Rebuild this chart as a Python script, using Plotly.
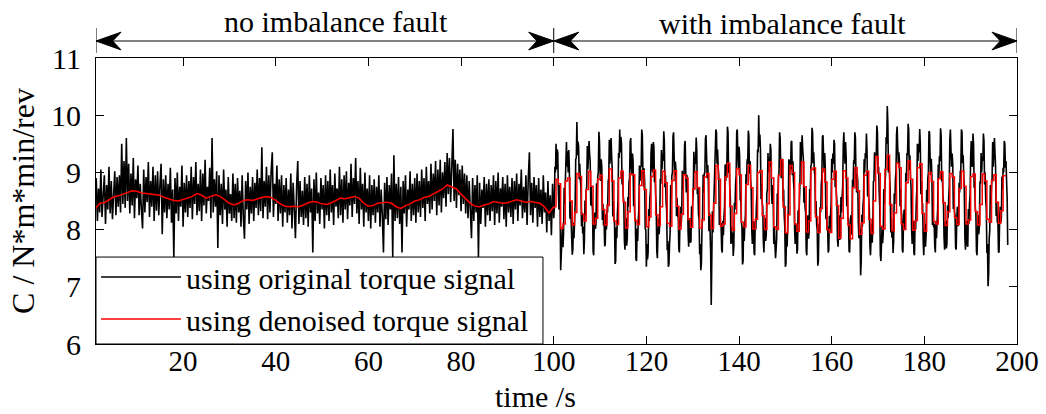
import numpy as np
import plotly.graph_objects as go

# ---------------- data ----------------
# original torque signal, 0.25 s sampling, t = 1.25 ... 100.0
black_first = [
    8.90, 8.15, 8.72, 8.30, 9.05, 8.22, 8.60, 8.95, 8.10, 8.78, 8.35, 9.10, 8.28, 8.85, 8.18, 8.70, 9.02, 8.25, 8.92, 8.40,
    8.95, 8.30, 9.50, 8.45, 9.20, 8.38, 9.60, 8.50, 9.15, 8.28, 8.98, 8.42, 9.25, 8.20, 8.88, 8.55, 9.12, 8.25, 8.80, 8.35,
    8.02, 9.05, 8.30, 8.92, 8.48, 9.18, 8.22, 8.85, 8.40, 9.10, 8.15, 8.95, 8.33, 9.02, 8.25, 8.78, 9.15, 7.92, 8.88, 8.30,
    8.95, 8.20, 8.80, 8.35, 9.08, 8.12, 8.70, 7.52, 8.90, 8.28, 9.00, 8.15, 8.75, 8.40, 9.12, 8.05, 8.82, 8.30, 8.95, 8.22,
    8.85, 8.38, 9.10, 8.18, 8.92, 8.45, 9.18, 8.25, 8.80, 8.32, 9.05, 8.15, 8.98, 8.42, 9.22, 8.28, 8.75, 8.50, 9.08, 8.20,
    9.60, 8.30, 8.88, 8.40, 9.02, 7.68, 8.95, 8.25, 8.80, 8.10, 9.05, 8.35, 8.70, 8.05, 8.92, 8.28, 8.62, 8.15, 8.98, 8.20,
    8.80, 8.12, 8.90, 8.30, 8.68, 8.05, 8.95, 8.22, 7.84, 8.85, 8.35, 9.00, 8.10, 8.75, 8.28, 8.92, 8.15, 8.82, 8.38, 9.05,
    8.25, 8.90, 8.32, 9.44, 8.20, 8.85, 8.40, 9.10, 8.18, 8.95, 8.30, 9.02, 9.35, 8.22, 8.80, 8.45, 9.12, 8.15, 8.88, 8.28,
    8.95, 8.05, 8.78, 8.30, 8.90, 8.12, 8.70, 8.25, 8.98, 8.02, 8.82, 8.35, 7.85, 8.75, 9.20, 8.10, 8.85, 8.22, 8.68, 8.08,
    8.92, 8.20, 8.80, 8.05, 8.95, 8.30, 8.72, 7.60, 8.88, 8.15, 9.00, 8.28, 8.65, 8.10, 8.90, 8.35, 8.78, 8.02, 8.95, 8.25,
    8.85, 8.15, 9.05, 8.30, 8.78, 8.08, 8.98, 8.40, 8.72, 8.20, 9.10, 8.25, 8.88, 8.12, 8.95, 8.35, 9.02, 8.18, 8.82, 8.42,
    9.15, 8.22, 8.90, 8.45, 9.25, 8.28, 8.85, 8.10, 9.08, 8.35, 8.80, 8.05, 9.00, 8.30, 8.72, 8.15, 8.95, 8.02, 8.78, 8.25,
    8.88, 8.12, 8.75, 8.30, 8.95, 8.05, 8.70, 8.25, 7.60, 8.82, 8.18, 8.92, 8.08, 8.78, 8.35, 8.98, 7.52, 9.30, 8.15, 8.80,
    8.20, 8.92, 8.10, 8.75, 7.60, 8.85, 8.28, 8.95, 8.05, 8.70, 8.35, 9.02, 8.15, 8.80, 8.25, 8.90, 8.12, 8.98, 8.30, 8.85,
    8.22, 9.05, 8.38, 8.90, 8.15, 9.10, 8.45, 8.85, 8.28, 9.15, 8.35, 8.98, 8.50, 9.20, 8.25, 9.05, 8.42, 9.22, 8.30, 9.00,
    8.55, 9.18, 8.40, 9.34, 8.62, 9.25, 8.48, 9.10, 9.76, 8.50, 9.22, 8.38, 9.15, 8.60, 9.05, 8.32, 9.12, 8.45, 8.98, 8.28,
    8.95, 8.20, 8.85, 8.35, 7.85, 8.90, 8.15, 8.78, 8.30, 8.95, 7.52, 8.82, 8.10, 8.70, 8.38, 8.92, 8.05, 8.80, 8.25, 8.88,
    8.15, 8.78, 8.32, 8.95, 8.08, 8.85, 8.28, 9.00, 8.12, 8.72, 8.40, 8.92, 8.18, 8.80, 8.05, 8.95, 8.30, 8.75, 8.22, 8.90,
    8.10, 8.85, 8.35, 8.98, 8.15, 8.80, 8.42, 9.05, 8.20, 8.75, 8.30, 8.95, 8.08, 8.88, 9.35, 8.25, 8.82, 8.12, 8.92, 8.38,
    8.78, 8.05, 8.90, 8.22, 8.70, 8.10, 8.95, 8.30, 8.65, 7.95, 8.85, 8.15, 8.60, 7.90, 8.80, 8.20,
]

# original torque signal, 0.125 s sampling, t = 100.125 ... 198.0
black_second = [
    8.35, 9.10, 9.00, 9.50, 9.05, 9.40, 9.35, 8.69, 8.35, 8.78, 8.45, 7.29, 7.45, 7.80, 8.05, 7.69, 7.95, 8.73,
    8.45, 8.79, 8.90, 9.53, 9.10, 9.37, 9.00, 9.39, 9.05, 8.19, 8.50, 8.12, 8.10, 7.56, 7.65, 8.12, 7.85, 8.17,
    8.45, 9.23, 9.25, 9.88, 9.30, 9.54, 9.45, 8.88, 9.15, 8.86, 8.75, 8.06, 8.30, 7.93, 8.05, 7.57, 7.80, 8.51,
    8.25, 8.67, 8.75, 9.46, 9.05, 9.30, 9.55, 9.31, 9.20, 8.42, 8.75, 8.46, 8.35, 7.62, 7.55, 8.08, 8.30, 8.01,
    8.10, 8.81, 8.55, 8.93, 9.00, 9.71, 9.55, 9.03, 8.85, 9.23, 9.10, 8.17, 8.45, 8.07, 8.15, 7.71, 7.75, 8.27,
    8.00, 8.34,
    8.30, 8.84, 8.90, 9.57, 9.15, 9.33, 9.60, 9.29, 9.05, 8.23, 8.50, 8.19, 8.10, 7.40, 7.45, 8.04, 7.85, 8.28,
    8.50, 9.34, 9.25, 9.75, 9.35, 9.62, 9.50, 8.79, 9.00, 8.59, 8.50, 7.82, 7.65, 8.06, 8.20, 7.72, 7.85, 8.57,
    8.40, 8.83, 8.90, 9.53, 9.60, 9.09, 8.95, 9.33, 9.20, 8.41, 8.60, 8.21, 8.15, 7.48, 7.45, 8.02, 7.80, 8.16,
    8.35, 9.12, 8.85, 9.11, 9.10, 9.75, 9.65, 9.01, 8.75, 9.07, 8.85, 8.01, 8.00, 7.35, 7.75, 7.48, 7.60, 8.36,
    8.15, 8.56, 8.65, 9.33, 9.50, 9.09, 9.00, 9.53, 9.45, 8.83, 9.00, 8.62, 8.40, 7.62, 7.50, 7.91, 8.20, 7.92,
    8.10, 8.89,
    8.80, 9.39, 9.05, 9.32, 9.20, 9.72, 9.55, 8.74, 8.95, 8.48, 8.35, 7.64, 7.80, 7.35, 7.40, 7.74, 7.95, 8.78,
    8.55, 8.94, 9.00, 9.63, 9.70, 9.27, 8.95, 9.19, 9.05, 8.24, 8.55, 8.22, 8.25, 7.66, 7.60, 8.17, 8.40, 8.07,
    8.25, 9.03, 8.70, 8.98, 8.95, 9.49, 9.55, 8.98, 8.65, 8.96, 8.75, 7.96, 7.70, 8.03, 8.20, 7.77, 7.80, 8.41,
    8.15, 8.47, 8.65, 9.36, 9.00, 9.25, 9.15, 9.61, 9.40, 8.62, 8.75, 8.26, 8.20, 7.57, 7.75, 7.29, 7.40, 8.01,
    8.20, 8.96, 8.65, 8.98, 9.00, 9.59, 9.65, 9.28, 8.90, 9.13, 8.85, 7.97, 8.30, 7.97, 7.60, 6.68, 7.30, 8.32,
    7.95, 8.29,
    8.30, 8.94, 9.05, 9.75, 9.70, 9.15, 9.40, 9.09, 8.95, 8.08, 8.40, 8.10, 8.10, 7.65, 7.60, 8.15, 7.90, 8.23,
    8.40, 9.14, 8.85, 9.10, 9.15, 9.80, 9.70, 8.99, 9.15, 8.74, 8.55, 7.75, 8.05, 7.77, 7.95, 7.54, 7.70, 8.47,
    8.35, 8.78, 8.95, 9.71, 9.75, 9.28, 9.05, 9.45, 9.30, 8.51, 8.60, 8.14, 8.05, 7.39, 7.45, 8.08, 7.80, 8.09,
    8.25, 8.97, 8.80, 9.23, 9.15, 9.73, 9.65, 8.98, 9.20, 8.87, 8.70, 7.99, 7.75, 8.13, 8.15, 7.59, 7.55, 8.14,
    8.00, 8.41, 8.60, 9.40, 9.35, 10.00, 9.45, 9.66, 9.40, 8.53, 8.80, 8.47, 8.40, 7.79, 7.60, 7.97, 8.20, 7.80,
    7.90, 8.64,
    8.70, 9.34, 9.00, 9.25, 9.10, 9.50, 9.40, 8.69, 8.45, 8.78, 8.55, 7.75, 8.05, 7.75, 7.50, 7.65, 7.85, 8.63,
    8.45, 8.89, 9.00, 9.70, 9.60, 9.10, 8.90, 9.24, 9.15, 8.49, 8.70, 8.25, 8.05, 7.35, 7.40, 7.94, 7.70, 8.02,
    8.35, 9.23, 8.95, 9.21, 9.05, 9.53, 9.55, 8.95, 9.20, 8.86, 8.70, 7.99, 7.75, 8.04, 8.10, 7.58, 7.65, 8.34,
    8.10, 8.42, 8.70, 9.53, 9.15, 9.43, 9.65, 9.38, 9.25, 8.47, 8.75, 8.39, 8.30, 7.63, 7.55, 8.09, 8.25, 7.84,
    7.95, 8.71, 8.60, 9.10, 9.15, 9.78, 9.70, 9.16, 9.35, 9.03, 8.95, 8.27, 8.50, 8.09, 8.00, 7.37, 7.45, 8.10,
    7.95, 8.39,
    8.30, 8.79, 8.90, 9.62, 9.65, 9.28, 9.00, 9.34, 9.05, 8.18, 8.40, 7.99, 8.05, 7.60, 7.65, 8.24, 7.95, 8.23,
    8.45, 9.24, 9.00, 9.33, 9.15, 9.57, 9.50, 8.74, 9.00, 8.64, 8.50, 7.82, 7.70, 8.06, 8.25, 7.82, 7.90, 8.57,
    8.30, 8.58, 8.75, 9.48, 9.70, 9.34, 9.15, 9.53, 9.25, 8.41, 8.60, 8.16, 8.20, 7.63, 7.60, 8.02, 8.25, 7.91,
    8.10, 8.87, 8.75, 9.21, 9.15, 9.70, 9.60, 8.91, 8.65, 8.97, 8.85, 8.11, 7.85, 8.12, 7.95, 7.20, 7.45, 8.26,
    8.05, 8.41, 8.55, 9.23, 9.00, 9.34, 9.25, 9.68, 9.40, 8.58, 8.85, 8.52, 8.35, 7.72, 7.55, 7.86, 8.10, 7.77,
    8.05, 8.84,
    8.85, 9.35, 9.05, 9.31, 9.30, 9.82, 9.70, 8.99, 9.10, 8.66, 8.40, 7.56, 7.45, 7.75, 8.05, 7.76, 7.95, 8.71,
    8.45, 8.79, 8.95, 9.62, 9.50, 10.16, 9.85, 9.00, 9.25, 8.94, 8.70, 7.95, 8.20, 7.86, 8.00, 7.59, 7.80, 8.63,
    8.45, 8.87, 9.00, 9.66, 9.80, 9.44, 9.15, 9.35, 9.20, 8.41, 8.70, 8.35, 8.25, 7.64, 7.60, 8.13, 8.35, 8.01,
    8.20, 8.99, 8.85, 9.34, 9.30, 9.85, 9.75, 9.04, 9.30, 8.94, 8.75, 8.01, 7.75, 8.08, 8.15, 7.59, 7.55, 8.15,
    8.00, 8.46, 8.70, 9.50, 9.20, 9.49, 9.35, 9.76, 9.50, 8.62, 8.85, 8.48, 8.45, 7.79, 7.55, 7.91, 8.10, 7.70,
    7.90, 8.69,
    8.45, 8.89, 9.00, 9.72, 9.70, 9.23, 8.95, 9.24, 8.95, 8.08, 8.40, 8.04, 8.10, 7.70, 7.60, 8.14, 7.85, 8.13,
    8.35, 9.14, 8.90, 9.28, 9.20, 9.77, 9.65, 8.84, 9.00, 8.59, 8.50, 7.87, 7.65, 8.06, 8.15, 7.67, 7.75, 8.42,
    8.20, 8.53, 8.75, 9.58, 9.75, 9.39, 9.10, 9.33, 9.15, 8.36, 8.65, 8.31, 8.25, 7.68, 7.65, 8.17, 8.40, 8.06,
    8.10, 8.82, 8.65, 9.01, 9.05, 9.75, 9.70, 9.16, 9.30, 8.97, 8.70, 7.86, 7.65, 7.97, 8.15, 7.73, 7.70, 8.36,
    8.10, 8.46, 8.60, 9.28, 9.55, 9.14, 9.10, 9.68, 9.50, 8.73, 8.85, 8.37, 8.30, 7.62, 7.55, 7.96, 8.25, 7.92,
    8.05, 8.84,
    8.80, 9.34, 9.00, 9.27, 9.20, 9.68, 9.55, 8.79, 9.00, 8.53, 8.35, 7.59, 7.75, 7.01, 7.20, 7.84, 8.00, 8.78,
    8.45, 8.74, 8.90, 9.53, 9.10, 9.37, 9.60, 9.34, 9.10, 8.24, 8.50, 8.12, 8.15, 7.61, 7.60, 8.17, 8.40, 8.12,
    8.20, 8.93, 8.70, 9.08, 9.00, 9.55, 9.50, 9.08, 9.20, 8.86, 8.55, 7.73,
]

# denoised torque signal, 1 s sampling, t = 1 ... 100
red_first = [
    8.35, 8.46, 8.47, 8.52, 8.57, 8.59, 8.62, 8.66, 8.68, 8.67,
    8.64, 8.63, 8.62, 8.61, 8.60, 8.56, 8.53, 8.51, 8.50, 8.53,
    8.55, 8.58, 8.63, 8.60, 8.55, 8.58, 8.61, 8.58, 8.52, 8.46,
    8.43, 8.46, 8.51, 8.52, 8.51, 8.54, 8.56, 8.58, 8.56, 8.51,
    8.45, 8.41, 8.40, 8.41, 8.40, 8.43, 8.47, 8.49, 8.48, 8.45,
    8.44, 8.47, 8.51, 8.55, 8.54, 8.56, 8.58, 8.55, 8.46, 8.41,
    8.42, 8.46, 8.47, 8.48, 8.46, 8.40, 8.37, 8.42, 8.45, 8.50,
    8.52, 8.56, 8.58, 8.62, 8.66, 8.71, 8.78, 8.74, 8.71, 8.62,
    8.53, 8.46, 8.41, 8.40, 8.43, 8.45, 8.49, 8.47, 8.46, 8.47,
    8.50, 8.52, 8.50, 8.48, 8.49, 8.48, 8.46, 8.40, 8.29, 8.40,
]

# denoised torque signal, 0.5 s sampling, t = 100.0 ... 197.5
red_second = [
    8.40, 8.88, 8.80, 8.02, 8.10, 8.85, 8.90, 8.50, 8.08, 8.30, 8.98, 8.93, 8.27, 8.15, 8.70, 9.02, 8.76, 8.10, 8.20, 8.88, 8.95, 8.35, 8.08,
    8.42, 9.06, 8.85, 8.15, 8.09, 8.90, 9.02, 8.48, 8.03, 8.31, 8.97, 8.96, 8.16, 8.09, 8.77, 9.03, 8.70, 8.05, 8.22, 8.93, 9.04, 8.26, 8.07,
    8.40, 9.02, 8.82, 8.11, 8.06, 8.86, 9.03, 8.41, 8.01, 8.27, 8.96, 8.90, 8.18, 8.04, 8.71, 9.01, 8.73, 8.03, 8.17, 8.92, 8.98, 8.25, 8.02,
    8.46, 9.12, 8.88, 8.06, 8.10, 8.92, 9.16, 8.41, 7.99, 8.28, 9.07, 8.96, 8.13, 8.05, 8.79, 9.12, 8.73, 8.01, 8.18, 9.00, 9.03, 8.24, 8.00,
    8.45, 9.18, 8.90, 8.05, 8.00, 8.95, 9.22, 8.40, 7.94, 8.26, 9.12, 9.00, 8.10, 7.97, 8.80, 9.18, 8.75, 7.96, 8.15, 9.05, 9.08, 8.22, 7.95,
    8.37, 9.06, 8.83, 8.00, 7.95, 8.88, 9.02, 8.42, 7.85, 8.20, 9.03, 8.90, 8.08, 7.84, 8.73, 9.08, 8.68, 7.92, 8.12, 8.95, 9.02, 8.18, 7.93,
    8.50, 9.28, 8.98, 8.06, 8.01, 9.05, 9.30, 8.44, 7.98, 8.29, 9.16, 9.08, 8.10, 8.00, 8.82, 9.20, 8.88, 7.99, 8.16, 9.08, 9.15, 8.28, 7.97,
    8.47, 9.00, 8.84, 8.14, 8.10, 8.89, 9.01, 8.47, 8.07, 8.31, 8.98, 8.92, 8.21, 8.09, 8.72, 9.02, 8.76, 8.10, 8.17, 8.93, 8.97, 8.31, 8.08,
    8.44, 8.97, 8.85, 8.18, 8.13, 8.86, 8.96, 8.48, 8.11, 8.33, 8.94, 8.93,
]

x_ticks = [20, 40, 60, 80, 100, 120, 140, 160, 180, 200]
y_ticks = [6, 7, 8, 9, 10, 11]
x_range = [1.2, 200]
y_range = [6, 11]
segments = [(1.2, 100, 53.1, "no imbalance fault", 1.129),
            (100, 200, 149.3, "with imbalance fault", 1.119)]

# sample times
t_black = np.concatenate([1.25 + 0.25 * np.arange(len(black_first)),
                          100.125 + 0.125 * np.arange(len(black_second))])
y_black = np.concatenate([black_first, black_second])
t_red1 = 1.0 + np.arange(len(red_first))
t_red2 = 100.0 + 0.5 * np.arange(len(red_second))

FONT = "Liberation Serif, Times New Roman, serif"
FS = 30

fig = go.Figure()
fig.add_trace(go.Scatter(x=t_black, y=y_black, mode="lines",
                         line=dict(color="black", width=1.6),
                         name="using original torque signal"))
fig.add_trace(go.Scatter(x=t_red1, y=red_first, mode="lines",
                         line=dict(color="#ff0000", width=1.5),
                         name="using denoised torque signal", legendgroup="red"))
fig.add_trace(go.Scatter(x=t_red2, y=red_second, mode="lines",
                         line=dict(color="#ff0000", width=1.5, shape="hv"),
                         name="using denoised torque signal", legendgroup="red",
                         showlegend=False))

axis_common = dict(showline=True, linecolor="black", linewidth=1, mirror="ticks",
                   ticks="inside", ticklen=8, tickcolor="black", tickwidth=1,
                   showgrid=False, zeroline=False, automargin=False)

fig.update_xaxes(range=x_range, tickvals=x_ticks, ticktext=[str(v) for v in x_ticks],
                 tickfont=dict(family=FONT, size=29, color="black"),
                 ticklabelstandoff=-9, **axis_common)
fig.update_yaxes(range=y_range, tickvals=y_ticks, ticktext=[str(v) for v in y_ticks],
                 tickfont=dict(family=FONT, size=FS, color="black"),
                 title=dict(text="C / N*m*min/rev", font=dict(family=FONT, size=32, color="black"),
                            standoff=6),
                 ticklabelstandoff=8, **axis_common)

shapes = []
annotations = []
Y = 1.0594
for (x0, x1, xc, label, ty) in segments:
    shapes.append(dict(type="line", xref="x", yref="paper", x0=x0, x1=x1, y0=Y, y1=Y,
                       line=dict(color="black", width=1)))
    L, N, H = 5.4, 3.6, 0.031
    shapes.append(dict(type="path", xref="x", yref="paper",
                       path=f"M{x0},{Y} L{x0+L},{Y+H} L{x0+N},{Y} L{x0+L},{Y-H} Z",
                       fillcolor="black", line=dict(color="black", width=1)))
    shapes.append(dict(type="path", xref="x", yref="paper",
                       path=f"M{x1},{Y} L{x1-L},{Y+H} L{x1-N},{Y} L{x1-L},{Y-H} Z",
                       fillcolor="black", line=dict(color="black", width=1)))
    annotations.append(dict(x=xc, y=ty, xref="x", yref="paper", text=label, showarrow=False,
                            xanchor="center", yanchor="middle",
                            font=dict(family=FONT, size=FS, color="black")))
for xv in [1.2, 100, 200]:
    shapes.append(dict(type="line", xref="x", yref="paper", x0=xv, x1=xv, y0=1.0175, y1=1.105,
                       line=dict(color="black", width=1)))
# x axis title (placed slightly left of the axes centre, as in the reference)
annotations.append(dict(x=0.4767, y=-0.2448, xref="paper", yref="paper", text="time /s",
                        showarrow=False, xanchor="center", yanchor="bottom", borderpad=0,
                        font=dict(family=FONT, size=30, color="black")))
# legend frame (white box at the lower left of the axes)
shapes.append(dict(type="rect", xref="paper", yref="paper", x0=0, x1=0.4853, y0=0, y1=0.304,
                   fillcolor="white", line=dict(color="black", width=1), layer="above"))

fig.update_layout(
    width=1046, height=414,
    margin=dict(l=96, r=29, t=58, b=70),
    plot_bgcolor="white", paper_bgcolor="white",
    font=dict(family=FONT, color="black"),
    shapes=shapes, annotations=annotations,
    legend=dict(x=0, y=0.325, xanchor="left", yanchor="top",
                bgcolor="rgba(0,0,0,0)", borderwidth=0,
                font=dict(family=FONT, size=FS, color="black"),
                itemwidth=80, tracegroupgap=0),
)

fig.write_html("out.html")
